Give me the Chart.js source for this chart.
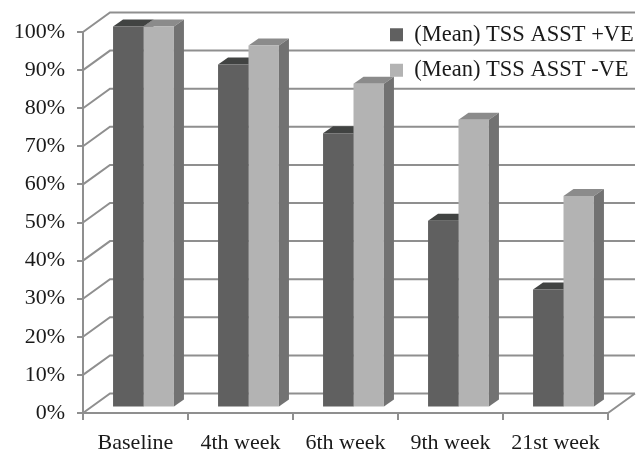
<!DOCTYPE html>
<html>
<head>
<meta charset="utf-8">
<script src="https://cdn.jsdelivr.net/npm/chart.js@4"></script>
<style>
  body { margin: 0; background: #fff; }
  canvas { display: block; }
</style>
</head>
<body>
<canvas id="g_tss" width="642" height="452"></canvas>
<script>
// données
const categories = ['Baseline', '4th week', '6th week', '9th week', '21st week'];
const seriesNames = ['(Mean) TSS ASST +VE', '(Mean) TSS ASST -VE'];
const tssPositive = [100, 90, 72, 49, 31];
const tssNegative = [100, 95, 85, 75.5, 55.5];
const yTickValues = [0, 10, 20, 30, 40, 50, 60, 70, 80, 90, 100];

// couleurs des faces : avant, dessus, côté
const frontColors = ['#606060', '#b3b3b3'];
const topColors = ['#414342', '#8b8b8b'];
const sideColors = ['#4a4a4a', '#727272'];
const lineColor = '#8f8f8f';
const textColor = '#1a1a1a';

// décalages pour l'effet 3D
const WALL = { x: 27, y: -19.5 };      // plan avant -> mur du fond
const BAR_SHIFT = { x: 8, y: -5.5 };   // plan avant -> face avant des barres
const BAR_DEPTH = { x: 10, y: -7 };    // profondeur d'une barre
const LEGEND_POS = { left: 377, top: 10.5 };

const serif = { family: '"Liberation Serif", "Times New Roman", serif', size: 22 };

// plugin qui dessine le mur, le sol et les faces des barres
const depth3d = {
    id: 'depth3d',
    afterLayout(chart) {
        // on place la légende en haut à droite, par dessus le mur
        const lg = chart.legend;
        const w = lg.width, h = lg.height;
        lg.left = LEGEND_POS.left;
        lg.top = LEGEND_POS.top;
        lg.right = lg.left + w;
        lg.bottom = lg.top + h;
    },
    beforeDraw(chart) {
        const { ctx, chartArea: a, scales: { y } } = chart;
        ctx.save();
        ctx.strokeStyle = lineColor;
        ctx.lineWidth = 2;
        ctx.beginPath();
        yTickValues.forEach(v => {
            const py = y.getPixelForValue(v);
            ctx.moveTo(a.left, py);
            ctx.lineTo(a.left + WALL.x, py + WALL.y);
            ctx.lineTo(a.right + WALL.x, py + WALL.y);
        });
        ctx.moveTo(a.right, a.bottom);
        ctx.lineTo(a.right + WALL.x, a.bottom + WALL.y);
        ctx.stroke();
        ctx.restore();
    },
    beforeDatasetsDraw(chart) {
        const ctx = chart.ctx;
        ctx.save();
        ctx.translate(BAR_SHIFT.x, BAR_SHIFT.y);
        chart.data.datasets.forEach((ds, i) => {
            chart.getDatasetMeta(i).data.forEach(bar => {
                const l = bar.x - bar.width / 2;
                const r = bar.x + bar.width / 2;
                // dessus
                ctx.fillStyle = topColors[i];
                ctx.beginPath();
                ctx.moveTo(l, bar.y);
                ctx.lineTo(l + BAR_DEPTH.x, bar.y + BAR_DEPTH.y);
                ctx.lineTo(r + BAR_DEPTH.x, bar.y + BAR_DEPTH.y);
                ctx.lineTo(r, bar.y);
                ctx.closePath();
                ctx.fill();
                // côté
                ctx.fillStyle = sideColors[i];
                ctx.beginPath();
                ctx.moveTo(r, bar.y);
                ctx.lineTo(r + BAR_DEPTH.x, bar.y + BAR_DEPTH.y);
                ctx.lineTo(r + BAR_DEPTH.x, bar.base + BAR_DEPTH.y);
                ctx.lineTo(r, bar.base);
                ctx.closePath();
                ctx.fill();
            });
        });
        // la translation reste active pour les faces avant dessinées par Chart.js
    },
    afterDatasetsDraw(chart) {
        chart.ctx.restore();
    }
};

let context = document.getElementById('g_tss').getContext('2d');

let conData = {
    labels: categories,
    datasets: [{
        label: seriesNames[0],
        data: tssPositive,
        backgroundColor: frontColors[0]
    }, {
        label: seriesNames[1],
        data: tssNegative,
        backgroundColor: frontColors[1]
    }]
};

let options = {
    responsive: false,
    devicePixelRatio: 1,
    animation: false,
    layout: { padding: { top: 32, right: 34, left: 0, bottom: 0 } },
    datasets: {
        bar: {
            categoryPercentage: 0.58,
            barPercentage: 1.0,
            borderWidth: 0,
            clip: false
        }
    },
    scales: {
        x: {
            afterFit: s => { s.height = 39; },
            border: { color: lineColor, width: 2 },
            grid: { drawOnChartArea: false, color: lineColor, lineWidth: 2, tickLength: 7, offset: true },
            ticks: { color: textColor, font: serif, padding: 10, maxRotation: 0, autoSkip: false }
        },
        y: {
            min: 0,
            max: 100,
            afterFit: s => { s.width = 83; },
            afterBuildTicks: s => { s.ticks = yTickValues.map(v => ({ value: v })); },
            border: { color: lineColor, width: 2 },
            grid: { drawOnChartArea: false, color: lineColor, lineWidth: 2, tickLength: 6 },
            ticks: { color: textColor, font: serif, padding: 12, callback: v => v + '%' }
        }
    },
    plugins: {
        tooltip: { enabled: false },
        legend: {
            position: 'chartArea',
            align: 'start',
            labels: {
                color: textColor,
                font: { family: serif.family, size: 22.5 },
                boxWidth: 13,
                boxHeight: 13,
                padding: 13
            }
        }
    }
};

let config = {
    type: 'bar',
    data: conData,
    options: options,
    plugins: [depth3d]
};

let gTss = new Chart(context, config);
</script>
</body>
</html>
